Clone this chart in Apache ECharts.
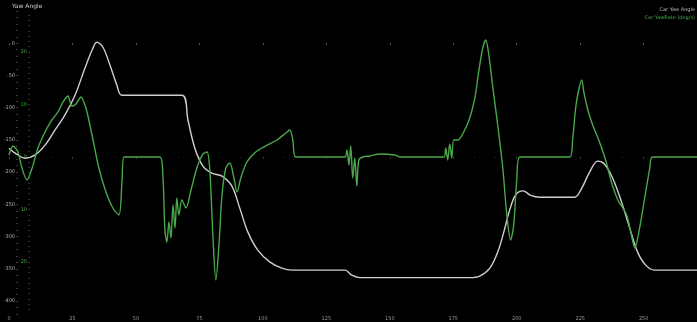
<!DOCTYPE html>
<html>
<head>
<meta charset="utf-8">
<title>Yaw Angle</title>
<script src="https://cdn.jsdelivr.net/npm/echarts@6/dist/echarts.min.js"></script>
<style>
  html, body { margin: 0; padding: 0; background: #000; }
  #chart { width: 697px; height: 322px; }
</style>
</head>
<body>
<div id="chart"></div>
<script>
// Lap distance ticks and axis labels
const xTickValues = [0, 25, 50, 75, 100, 125, 150, 175, 200, 225, 250];
const yawAngleTicks = [0, -50, -100, -150, -200, -250, -300, -350, -400];
const yawRateTicks = [20, 10, 0, -10, -20];

// Car yaw angle (deg) against distance
const yawAngleX = [0, 2.4, 6.3, 10.2, 14.2, 18.1, 22.0, 26.0, 29.9, 32.7, 34.6, 37.0, 39.8, 42.5, 44.5,
  68.1, 70.5, 73.2, 76.4, 79.9, 83.9, 87.8, 90.9, 94.1, 98.0, 102.8, 107.5, 111.4,
  132.3, 135.0, 138.2, 181.5, 185.4, 189.4, 192.5, 194.9, 197.2, 199.6, 202.5, 205.5, 209.1,
  222.8, 225.6, 228.7, 231.9, 234.6, 237.8, 241.3, 244.5, 247.6, 250.8, 254.3, 271];
const yawAngleVal = [-162.8, -170.5, -178.3, -173.6, -158.1, -134.9, -111.6, -80.6, -38.8, -10.9, 1.6, -6.2, -34.1, -65.1, -80.6,
  -80.6, -119.4, -162.8, -190.7, -201.6, -206.2, -221.7, -255.8, -293.0, -320.9, -339.5, -348.8, -351.9,
  -351.9, -359.7, -363.6, -363.6, -361.2, -348.8, -324.0, -293.0, -258.9, -235.0, -229.0, -236.0, -238.8,
  -238.8, -224.8, -200.0, -182.9, -187.6, -209.3, -246.5, -286.8, -324.0, -344.2, -351.9, -351.9];

// Car yaw rate (deg/s) against distance
const yawRateX = [0, 1.6, 3.5, 5.1, 7.1, 9.1, 11.4, 14.2, 16.9, 19.3, 21.3, 23.2, 24.8, 26.4, 28.3, 30.3, 32.7, 35.4, 38.2, 40.9, 43.3, 44.5, 45.3,
  59.4, 60.6, 61.4, 62.2, 63.0, 63.8, 64.6, 65.4, 66.1, 66.9, 68.1, 69.7, 71.7, 74.0, 76.4, 78.0, 79.1, 80.3, 81.5, 82.7, 83.9, 85.4, 87.0, 88.6, 89.8, 91.3, 93.7, 97.2, 101.2, 105.5, 109.1, 110.6, 111.8, 113.0,
  132.3, 133.1, 133.9, 134.6, 135.4, 136.2, 137.0, 137.8, 139.4, 142.1, 146.1, 152.0, 153.9,
  171.3, 172.0, 172.8, 173.6, 174.4, 175.2, 176.8, 179.1, 181.5, 183.5, 185.0, 186.6, 187.8, 189.0, 190.6, 192.5, 194.5, 196.1, 197.6, 198.8, 200.0, 201.2,
  220.9, 222.0, 223.2, 224.4, 225.6, 226.4, 228.0, 229.9, 232.3, 235.0, 237.4, 239.8, 241.3, 243.3, 244.9, 246.5, 248.4, 250.4, 252.4, 253.5, 271];
const yawRateVal = [0.38, 2.10, 0.95, -2.10, -4.38, -2.10, 1.71, 4.76, 7.05, 8.57, 10.48, 11.62, 9.71, 10.10, 11.43, 9.33, 4.19, -2.10, -6.67, -9.71, -11.05, -4.76, 0,
  0, -3.43, -13.90, -16.19, -12.38, -15.43, -9.14, -13.52, -7.81, -11.05, -8.19, -9.71, -6.29, -2.10, 0.57, 0.95, -2.48, -14.86, -23.43, -16.76, -7.24, -2.10, -1.14, -4.0, -6.67, -4.0, -0.95, 0.95, 2.10, 3.24, 4.57, 5.14, 3.24, 0,
  0, 1.33, -1.52, 2.10, -4.0, -0.19, -5.52, -0.57, 0, 0.19, 0.57, 0.38, 0,
  0, 1.71, -0.57, 2.48, -0.19, 3.24, 3.24, 4.76, 7.43, 11.24, 16.19, 20.76, 22.29, 19.43, 13.14, 6.10, -2.10, -11.05, -15.81, -12.95, -4.38, 0,
  0, 3.24, 9.33, 12.76, 14.67, 12.38, 8.95, 6.10, 3.24, -0.57, -4.95, -8.19, -9.33, -11.05, -14.29, -17.33, -13.52, -7.81, -2.10, 0, 0];

const pairs = (xs, ys) => xs.map((x, i) => [x, ys[i]]);
const range = (a, b, step) => { const out = []; for (let v = a; v >= b - 1e-9; v -= step) out.push(+v.toFixed(3)); return out; };

const WHITE = '#cfcfcf';
const GREEN = '#49a849';
const FONT = 'DejaVu Sans';

const chart = echarts.init(document.getElementById('chart'), null, { renderer: 'canvas' });

chart.setOption({
  backgroundColor: '#000',
  animation: false,
  textStyle: { fontFamily: FONT },
  grid: { left: 9, right: 0, top: 11, bottom: 8 },
  graphic: [
    { type: 'text', left: 12, top: 3, style: { text: 'Yaw Angle', fill: '#cfcfcf', font: '6px ' + FONT } },
    { type: 'text', right: 2, top: 7, style: { text: 'Car Yaw Angle', fill: '#b8b8b8', font: '5px ' + FONT, align: 'right' } },
    { type: 'text', right: 2, top: 15, style: { text: 'Car YawRate (deg/s)', fill: GREEN, font: '5px ' + FONT, align: 'right' } }
  ],
  xAxis: [
    {
      type: 'value', min: 0, max: 271, interval: 25,
      axisLine: { show: false },
      axisTick: { show: true, length: 2, lineStyle: { color: '#555' } },
      axisLabel: { color: '#9a9a9a', fontSize: 5, margin: 2, customValues: xTickValues },
      splitLine: { show: false }
    },
    {
      type: 'value', position: 'top', min: 0, max: 271, interval: 25,
      axisLine: { show: false },
      axisLabel: { show: false },
      axisTick: { show: true, inside: true, length: 2, lineStyle: { color: '#3a3a3a' } },
      minorTick: { show: true, splitNumber: 3, length: 1, lineStyle: { color: '#333' } },
      splitLine: { show: false }
    }
  ],
  yAxis: [
    {
      type: 'value', position: 'left', offset: -9, min: -420, max: 50,
      axisLine: { show: false },
      splitLine: { show: false },
      axisTick: { show: true, length: 2, customValues: range(50, -420, 10), lineStyle: { color: '#3a3a3a' } },
      axisLabel: { color: '#b5b5b5', fontSize: 5, margin: 3, customValues: yawAngleTicks }
    },
    {
      type: 'value', position: 'left', offset: -21, min: -29.9, max: 27.8,
      axisLine: { show: false },
      splitLine: { show: false },
      axisTick: { show: true, length: 2, customValues: range(27, -29, 1), lineStyle: { color: '#333' } },
      axisLabel: { color: GREEN, fontSize: 5, margin: 3, customValues: yawRateTicks }
    }
  ],
  series: [
    {
      name: 'Car Yaw Angle', type: 'line', yAxisIndex: 0, xAxisIndex: 0,
      data: pairs(yawAngleX, yawAngleVal),
      showSymbol: false, smooth: 0.35,
      lineStyle: { color: WHITE, width: 1.4 }
    },
    {
      name: 'Car YawRate (deg/s)', type: 'line', yAxisIndex: 1, xAxisIndex: 0,
      data: pairs(yawRateX, yawRateVal),
      showSymbol: false, smooth: 0.3,
      lineStyle: { color: GREEN, width: 1.4 }
    }
  ]
});
</script>
</body>
</html>
